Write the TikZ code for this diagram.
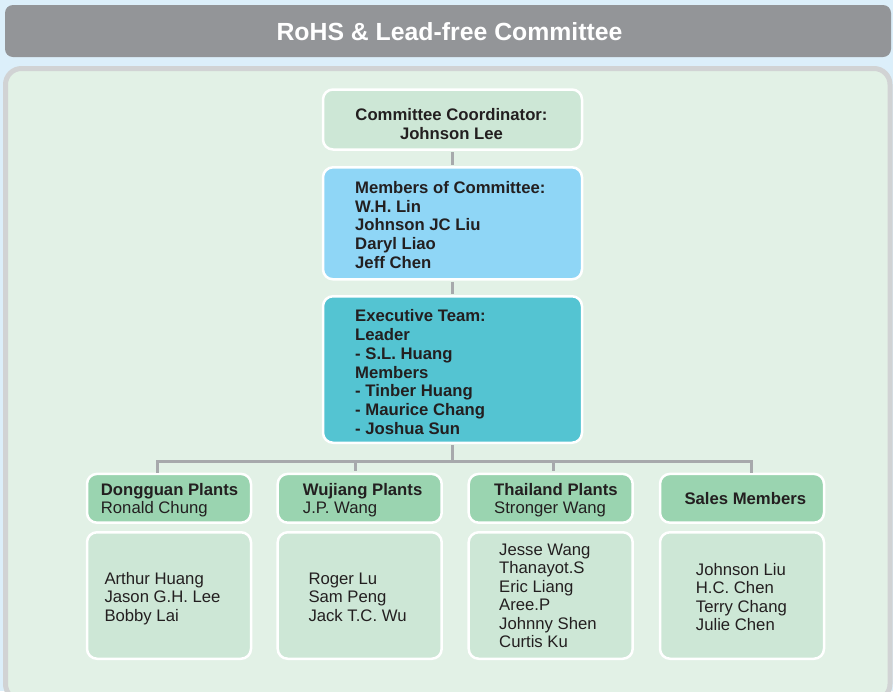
\documentclass[tikz,border=0pt]{standalone}
\usepackage{fontspec}
\setmainfont{Liberation Sans}
\usepackage{xcolor}
\usetikzlibrary{positioning,calc}

\definecolor{sky}{HTML}{DCEFFA}
\definecolor{titlegray}{HTML}{939598}
\definecolor{panelgray}{HTML}{D1D3D4}
\definecolor{panelfill}{HTML}{E2F1E6}
\definecolor{paleleaf}{HTML}{CDE7D6}
\definecolor{skyblue}{HTML}{8FD6F6}
\definecolor{teal}{HTML}{54C4D2}
\definecolor{leaf}{HTML}{9AD4B0}
\definecolor{wire}{HTML}{A7A9AC}
\definecolor{ink}{HTML}{231F20}

\begin{document}
\begin{tikzpicture}[x=1pt, y=-1pt,
    box/.style={draw=white, line width=2.5pt, rounded corners=10pt, inner sep=0pt},
    topbox/.style={box, minimum width=259pt},
    plantbox/.style={box, minimum width=164pt},
    txt/.style={anchor=north west, inner sep=0pt, align=left, text=ink,
        font=\fontsize{16.7}{18.5}\selectfont},
    boldtxt/.style={txt, font=\bfseries\fontsize{16.7}{18.8}\selectfont},
    conn/.style={draw=wire, line width=3pt}
]
    % Background
    \fill[sky] (0,0) rectangle (893,691);
    \useasboundingbox (0,0) rectangle (893,691);

    % Title bar
    \node[fill=titlegray, rounded corners=8pt, minimum width=886pt, minimum height=52pt,
        inner sep=0pt] (title) at (448,31) {};
    \node[inner sep=0pt, anchor=base, text=white, font=\bfseries\fontsize{24.8}{28}\selectfont]
        (titletxt) at (449.5,40.7) {RoHS \& Lead-free Committee};

    % Panel
    \draw[panelgray, fill=panelfill, line width=5pt, rounded corners=16pt]
        (5.5,68.5) rectangle (890,700);

    % Committee boxes
    \node[topbox, fill=paleleaf, minimum height=60pt] (coord) at (452.5,119.5) {};
    \node[topbox, fill=skyblue, minimum height=112pt] (members) at (452.5,223.3) {};
    \node[topbox, fill=teal, minimum height=146.5pt] (exec) at (452.5,369.5) {};

    \node[boldtxt, anchor=north, align=center, font=\bfseries\fontsize{16.7}{19.3}\selectfont]
        (coordtxt) at (451.5,108.3) {Committee Coordinator:\\Johnson Lee};
    \node[boldtxt] (memberstxt) at (355,181) {Members of Committee:\\W.H. Lin\\Johnson JC Liu\\Daryl Liao\\Jeff Chen};
    \node[boldtxt] (exectxt) at (355,309.3) {Executive Team:\\Leader\\- S.L. Huang\\Members\\- Tinber Huang\\- Maurice Chang\\- Joshua Sun};

    % Plant heads
    \node[plantbox, fill=leaf, minimum height=48.8pt] (dghd) at (169,498.3) {};
    \node[plantbox, fill=leaf, minimum height=48.8pt] (wjhd) at (359.7,498.3) {};
    \node[plantbox, fill=leaf, minimum height=48.8pt] (thhd) at (550.7,498.3) {};
    \node[plantbox, fill=leaf, minimum height=48.8pt] (sahd) at (742,498.3) {};

    \node[txt, font=\fontsize{16.7}{18}\selectfont] (dghdtxt) at (100.7,483) {\textbf{Dongguan Plants}\\Ronald Chung};
    \node[txt, font=\fontsize{16.7}{18}\selectfont] (wjhdtxt) at (302.7,483) {\textbf{Wujiang Plants}\\J.P. Wang};
    \node[txt, font=\fontsize{16.7}{18}\selectfont] (thhdtxt) at (494,483) {\textbf{Thailand Plants}\\Stronger Wang};
    \node[boldtxt] (sahdtxt) at (684.3,491.7) {Sales Members};

    % Plant members
    \node[plantbox, fill=paleleaf, minimum height=126.5pt] (dgbody) at (169,595.5) {};
    \node[plantbox, fill=paleleaf, minimum height=126.5pt] (wjbody) at (359.7,595.5) {};
    \node[plantbox, fill=paleleaf, minimum height=126.5pt] (thbody) at (550.7,595.5) {};
    \node[plantbox, fill=paleleaf, minimum height=126.5pt] (sabody) at (742,595.5) {};

    \node[txt] (dgbodytxt) at (104.3,571.7) {Arthur Huang\\Jason G.H. Lee\\Bobby Lai};
    \node[txt] (wjbodytxt) at (308.3,572.7) {Roger Lu\\Sam Peng\\Jack T.C. Wu};
    \node[txt] (thbodytxt) at (499,543.3) {Jesse Wang\\Thanayot.S\\Eric Liang\\Aree.P\\Johnny Shen\\Curtis Ku};
    \node[txt] (sabodytxt) at (695.7,562.7) {Johnson Liu\\H.C. Chen\\Terry Chang\\Julie Chen};

    % Connectors
    \coordinate (dgtap) at (157,461);
    \coordinate (wjtap) at (355,461);
    \coordinate (thtap) at (553,461);
    \coordinate (satap) at (751,461);

    \draw[conn, shorten <=1.25pt, shorten >=1.25pt] (coord.south) -- (members.north);
    \draw[conn, shorten <=1.25pt, shorten >=1.25pt] (members.south) -- (exec.north);
    \draw[conn, shorten <=1.25pt] (exec.south) -- (exec.south |- dgtap);
    \draw[conn, shorten <=1.25pt, shorten >=1.25pt]
        ([yshift=-1.25pt]dgtap |- dghd.north) -- (dgtap) -- (satap) -- ([yshift=-1.25pt]satap |- sahd.north);
    \draw[conn, shorten >=1.25pt] (wjtap) -- (wjtap |- wjhd.north);
    \draw[conn, shorten >=1.25pt] (thtap) -- (thtap |- thhd.north);
\end{tikzpicture}
\end{document}
